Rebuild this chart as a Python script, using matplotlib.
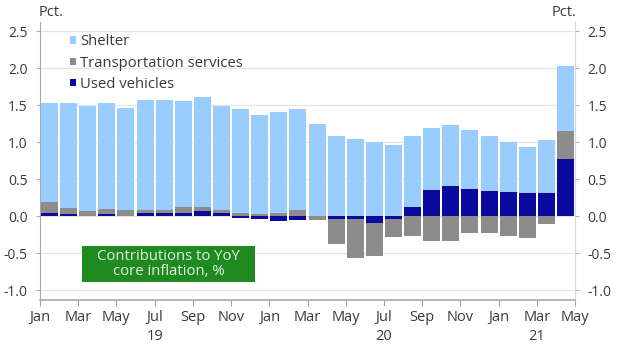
import numpy as np
import matplotlib
matplotlib.use("Agg")
import matplotlib.pyplot as plt
from matplotlib.patches import Patch, Rectangle

plt.rcParams['font.family'] = ['Open Sans', 'DejaVu Sans']

months = ["Jan 19", "Feb 19", "Mar 19", "Apr 19", "May 19", "Jun 19", "Jul 19", "Aug 19",
          "Sep 19", "Oct 19", "Nov 19", "Dec 19", "Jan 20", "Feb 20", "Mar 20", "Apr 20",
          "May 20", "Jun 20", "Jul 20", "Aug 20", "Sep 20", "Oct 20", "Nov 20", "Dec 20",
          "Jan 21", "Feb 21", "Mar 21", "Apr 21"]
shelter = [1.345, 1.425, 1.42, 1.43, 1.39, 1.48, 1.48, 1.44, 1.48, 1.40, 1.40, 1.335,
           1.37, 1.37, 1.25, 1.08, 1.05, 1.00, 0.96, 0.96, 0.84, 0.825, 0.80, 0.75,
           0.67, 0.63, 0.71, 0.88]
transport = [0.15, 0.08, 0.067, 0.07, 0.07, 0.05, 0.05, 0.07, 0.06, 0.05, 0.05, 0.035,
             0.04, 0.08, -0.045, -0.34, -0.527, -0.44, -0.235, -0.26, -0.333, -0.333,
             -0.225, -0.23, -0.266, -0.293, -0.10, 0.37]
used = [0.04, 0.03, 0.01, 0.03, 0.01, 0.04, 0.04, 0.05, 0.07, 0.04, -0.02, -0.03,
        -0.07, -0.045, 0.0, -0.036, -0.036, -0.095, -0.04, 0.13, 0.35, 0.405,
        0.37, 0.34, 0.333, 0.31, 0.32, 0.78]
tick_labels = ["Jan", "Mar", "May", "Jul", "Sep", "Nov", "Jan", "Mar", "May", "Jul",
               "Sep", "Nov", "Jan", "Mar", "May"]
year_labels = ["19", "20", "21"]
year_pos = [6, 18, 26]
series_names = ["Shelter", "Transportation services", "Used vehicles"]
colors = ["#99ccff", "#8c8c8c", "#0a0a9e"]
txt = "#3a3a3a"

fig = plt.figure(figsize=(6.2, 3.51), dpi=100)
ax = fig.add_axes([40/620, 1-300/351, 535/620, 278/351])

x = np.arange(len(months)) + 0.5
pos = np.zeros(len(months))
neg = np.zeros(len(months))
for vals, c in [(used, colors[2]), (transport, colors[1]), (shelter, colors[0])]:
    v = np.array(vals)
    bottom = np.where(v >= 0, pos, neg)
    ax.bar(x, v, bottom=bottom, width=0.89, color=c, linewidth=0, zorder=3)
    pos = pos + np.where(v >= 0, v, 0)
    neg = neg + np.where(v < 0, v, 0)

ax.set_xlim(0, 28)
ax.set_ylim(-1.131, 2.626)
yt = [-1.0, -0.5, 0.0, 0.5, 1.0, 1.5, 2.0, 2.5]
ax.set_yticks(yt)
ax.set_yticklabels([f"{t:.1f}" for t in yt])
ax.set_xticks(np.arange(0, 29, 2))
ax.set_xticklabels(tick_labels)
ax.grid(axis='y', color='#e6e6e6', linewidth=1.0, zorder=0)
ax.tick_params(axis='y', which='both', left=True, right=True, labelleft=True, labelright=True,
               length=3, color='#b0b0b0', labelsize=10, labelcolor=txt, pad=6)
ax.tick_params(axis='x', length=4, color='#a0a0a0', labelsize=10.5, labelcolor=txt, pad=3)
ax.spines['top'].set_visible(False)
ax.spines['left'].set_color('#a8a8a8')
ax.spines['bottom'].set_color('#a8a8a8')
ax.spines['right'].set_color('#d8d8d8')
ax.spines['bottom'].set_linewidth(1.2)

for lab, p in zip(year_labels, year_pos):
    ax.text(p, -36/278, lab, transform=ax.get_xaxis_transform(), ha='center', va='center',
            fontsize=10.5, color=txt)

fig.text(39/620, 1-12/351, "Pct.", ha='left', va='center', fontsize=10.5, color=txt)
fig.text(577/620, 1-12/351, "Pct.", ha='right', va='center', fontsize=10.5, color=txt)

handles = [Patch(facecolor=c, edgecolor='none') for c in colors]
leg = ax.legend(handles, series_names, loc='upper left', bbox_to_anchor=(0.037, 0.993),
                frameon=False, fontsize=10.7, handlelength=0.4, handleheight=0.4,
                handletextpad=0.25, labelspacing=0.42, borderaxespad=0.3)
for t in leg.get_texts():
    t.set_color(txt)

fig.patches.append(Rectangle((82/620, 1-282/351), 173/620, 36/351, transform=fig.transFigure,
                             facecolor='#1f8a1f', edgecolor='none', zorder=4))
fig.text(168.5/620, 1-264/351, "Contributions to YoY\ncore inflation, %",
         ha='center', va='center', fontsize=10.7, color='#e4f2e4', linespacing=1.0, zorder=5)

fig.savefig("out.png", dpi=100)
